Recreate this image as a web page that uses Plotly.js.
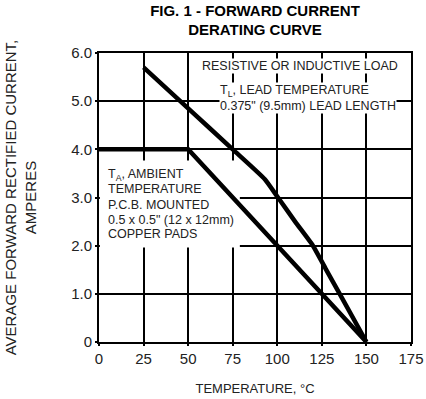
<!DOCTYPE html>
<html>
<head>
<meta charset="utf-8">
<script src="https://cdn.plot.ly/plotly-3.0.1.min.js"></script>
<style>html,body{margin:0;padding:0;background:#fff;}#chart{width:426px;height:399px;}</style>
</head>
<body>
<div id="chart"></div>
<script>
// Lead temperature curve (T_L)
var tempLead = [25, 50, 75, 93, 100, 110, 120, 127, 135, 150];
var currentLead = [5.7, 4.85, 4.0, 3.38, 3.02, 2.5, 2.0, 1.53, 1.0, 0];
// Ambient temperature curve (T_A)
var tempAmbient = [0, 50, 150];
var currentAmbient = [4.0, 4.0, 0];
// Tick labels
var xTicks = [0, 25, 50, 75, 100, 125, 150, 175];
var xTickText = ['0', '25', '50', '75', '100', '125', '150', '175'];
var yTicks = [0, 1, 2, 3, 4, 5, 6];
var yTickText = ['0', '1.0', '2.0', '3.0', '4.0', '5.0', '6.0'];

var FONT = 'Liberation Sans, Arial, sans-serif';
var INK = '#222';

var traces = [
  {x: tempAmbient, y: currentAmbient, mode: 'lines', name: 'T_A',
   line: {color: '#000', width: 4.5}, hoverinfo: 'skip', showlegend: false},
  {x: tempLead, y: currentLead, mode: 'lines', name: 'T_L',
   line: {color: '#000', width: 4.5, shape: 'spline', smoothing: 0.5}, hoverinfo: 'skip', showlegend: false}
];

function note(text, x, y, anchor, bg) {
  return {text: text, x: x, y: y, xref: 'x', yref: 'y', xanchor: anchor, yanchor: 'middle',
    showarrow: false, font: {family: FONT, size: 12.5, color: INK},
    bgcolor: bg ? '#fff' : 'rgba(0,0,0,0)', borderpad: 0};
}

var layout = {
  width: 426, height: 399,
  margin: {l: 99, r: 15, t: 53, b: 57},
  paper_bgcolor: '#fff', plot_bgcolor: '#fff',
  showlegend: false,
  title: {text: 'FIG. 1 - FORWARD CURRENT<br>DERATING CURVE',
    font: {family: FONT, size: 15, color: '#000', weight: 'bold'},
    x: 0.5, xref: 'paper', xanchor: 'center', y: 0.96, yref: 'container', yanchor: 'top'},
  xaxis: {range: [0, 175], tickvals: xTicks, ticktext: xTickText,
    showgrid: true, gridcolor: '#000', gridwidth: 2, zeroline: false,
    showline: true, mirror: true, linecolor: '#000', linewidth: 2,
    ticks: 'outside', ticklen: 2, tickwidth: 2, tickcolor: '#000',
    tickfont: {family: FONT, size: 15, color: INK},
    title: {text: 'TEMPERATURE, °C', font: {family: FONT, size: 13, color: INK}, standoff: 18},
    fixedrange: true},
  yaxis: {range: [0, 6], tickvals: yTicks, ticktext: yTickText,
    showgrid: true, gridcolor: '#000', gridwidth: 2, zeroline: false,
    showline: true, mirror: true, linecolor: '#000', linewidth: 2,
    ticks: 'outside', ticklen: 2, tickwidth: 2, tickcolor: '#000',
    tickfont: {family: FONT, size: 15, color: INK},
    title: {text: 'AVERAGE FORWARD RECTIFIED CURRENT,<br>AMPERES', font: {family: FONT, size: 15, color: INK}, standoff: 31},
    fixedrange: true},
  shapes: [
    {type: 'rect', xref: 'x', yref: 'y', x0: 0.5, x1: 79, y0: 1.96, y1: 3.77,
     fillcolor: '#fff', line: {width: 0}, layer: 'between'},
    {type: 'rect', xref: 'x', yref: 'y', x0: -0.7, x1: 0.7, y0: 2.06, y1: 2.94,
     fillcolor: '#fff', line: {width: 0}, layer: 'above'},
    {type: 'rect', xref: 'x', yref: 'y', x0: -0.7, x1: 0.7, y0: 3.06, y1: 3.7,
     fillcolor: '#fff', line: {width: 0}, layer: 'above'}
  ],
  annotations: [
    note('RESISTIVE OR INDUCTIVE LOAD', 112.7, 5.73, 'center', true),
    note('T<sub>L</sub>, LEAD TEMPERATURE', 109.6, 5.22, 'center', true),
    note('0.375" (9.5mm) LEAD LENGTH', 117.5, 4.91, 'center', true),
    note('T<sub>A</sub>, AMBIENT', 4.5, 3.46, 'left', false),
    note('TEMPERATURE', 4.5, 3.17, 'left', false),
    note('P.C.B. MOUNTED', 4.5, 2.84, 'left', false),
    note('0.5 x 0.5" (12 x 12mm)', 4.5, 2.53, 'left', false),
    note('COPPER PADS', 4.5, 2.24, 'left', false)
  ]
};

Plotly.newPlot('chart', traces, layout, {staticPlot: true, displayModeBar: false});
</script>
</body>
</html>
